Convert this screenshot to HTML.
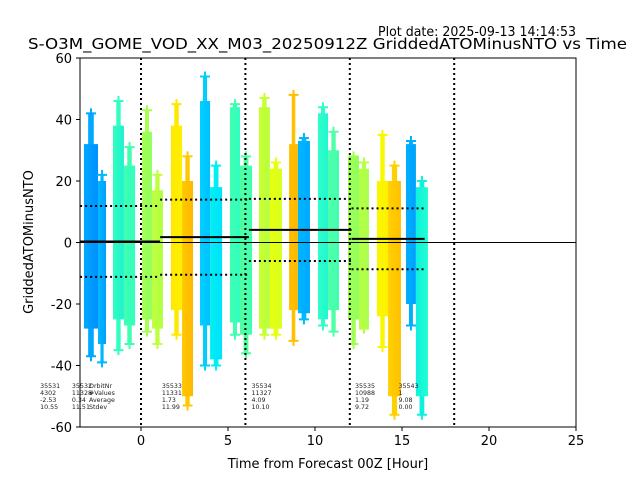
<!DOCTYPE html>
<html><head><meta charset="utf-8"><style>
body{margin:0;background:#fff;font-family:"Liberation Sans","DejaVu Sans",sans-serif}
svg text{font-family:"DejaVu Sans","Liberation Sans",sans-serif}
</style></head><body>
<svg id="chart" width="640" height="480" xmlns="http://www.w3.org/2000/svg">
<rect width="640" height="480" fill="#fff"/>
<text x="378" y="36" font-size="13" textLength="198" lengthAdjust="spacingAndGlyphs">Plot date: 2025-09-13 14:14:53</text>
<text x="28" y="49" font-size="15.5" textLength="599" lengthAdjust="spacingAndGlyphs">S-O3M_GOME_VOD_XX_M03_20250912Z GriddedATOMinusNTO vs Time</text>
<g id="plot"></g>
<rect x="80" y="58" width="496" height="369" fill="none" stroke="#000" stroke-width="1"/>
<g id="axes"></g>
<text x="328" y="468" font-size="13" text-anchor="middle">Time from Forecast 00Z [Hour]</text>
<text transform="translate(33,242) rotate(-90)" font-size="13" text-anchor="middle">GriddedATOMinusNTO</text>
</svg>
<script>
const stripX0=[-3.28,-2.47,-1.61,-0.98,0.06,0.63,1.72,2.36,3.39,3.97,5.11,5.69,6.78,7.41,8.51,9.02,10.17,10.75,11.9,12.53,13.56,14.2,15.23,15.8];
const stripX1=[-2.47,-2.01,-0.98,-0.34,0.63,1.26,2.36,2.99,3.97,4.66,5.69,6.38,7.41,8.10,9.02,9.71,10.75,11.38,12.53,13.1,14.2,14.94,15.8,16.49];
const coreTop=[32,20,38,25,36,17,38,20,46,18,44,25,44,24,32,33,42,30,28,24,20,20,32,18];
const coreBot=[-28,-33,-25,-27,-25,-28,-22,-50,-27,-38,-26,-30,-28,-28,-22,-23,-25,-22,-25,-28,-24,-50,-20,-50];
const outTop=[42,22,46,31,43,22,45,28,54,25,45,28,47,26,48,34,44,36,28,26,35,25,33,20];
const outBot=[-37,-39,-35,-33,-29,-33,-30,-53,-40,-40,-30,-36,-30,-30,-32,-25,-27,-29,-33,-28,-34,-56,-27,-56];
const stripColA=["#00a8ff","#00b8ff","#30ffc0","#40ffb0","#a8ff50","#c0ff40","#ffe800","#ffc800","#00d0ff","#00f0f0","#40ffb0","#50ffa0","#c8ff30","#e8ff10","#ffc000","#00b8ff","#30ffc8","#50ffa8","#a0ff50","#b8ff40","#f8f800","#ffd000","#00b0ff","#10f0e0"];
const stripColB=["#0090ff","#00a0ff","#20f0d0","#30ffc0","#90ff60","#b0ff40","#fff000","#ffb800","#00c0ff","#00e0ff","#30ffc0","#40ffb0","#b8ff40","#d8ff20","#ffb800","#00a8ff","#20f8d0","#40ffb0","#90ff60","#a8ff50","#fff000","#ffc000","#00a0ff","#20ffd0"];
const meanX0=[-3.5,1.1,6.2,12.1];
const meanX1=[1.1,6.2,12.1,16.3];
const meanVal=[0.34,1.73,4.09,1.19];
const sdVal=[11.51,12.2,10.1,9.9];
const vLines=[0,6,12,18];
const xTicks=[0,5,10,15,20,25];
const yTicks=[-60,-40,-20,0,20,40,60];
const annX=[-5.8,-3.97,1.2,6.35,12.3,14.8];
const annLines=[["35531","4302","-2.53","10.55"],["35532","11328","0.34","11.51"],["35533","11331","1.73","11.99"],["35534","11327","4.09","10.10"],["35535","10988","1.19","9.72"],["35543","1","9.08","0.00"]];
const labelsCol=["OrbitNr","#Values","Average","Stdev"];

const X=h=>141+(h)*17.4;
const Y=v=>242.5-v*3.075;
const NS="http://www.w3.org/2000/svg";
const plot=document.getElementById('plot'), axes=document.getElementById('axes');
function mk(tag,attrs,parent){const e=document.createElementNS(NS,tag);for(const k in attrs)e.setAttribute(k,attrs[k]);parent.appendChild(e);return e;}
const defs=mk('defs',{},plot);
for(let i=0;i<stripX0.length;i++){
  const g=mk('linearGradient',{id:'g'+i,x1:0,x2:1,y1:0,y2:0},defs);
  mk('stop',{offset:0,'stop-color':stripColA[i]},g);mk('stop',{offset:1,'stop-color':stripColB[i]},g);
  const x0=X(stripX0[i]),x1=X(stripX1[i]),w=x1-x0,cx=(x0+x1)/2;
  const t=mk('rect',{x:cx-w*0.2,y:Y(outTop[i]),width:w*0.4,height:Y(outBot[i])-Y(outTop[i]),fill:stripColA[i]},plot);
  
  
  const r=mk('rect',{x:x0,y:Y(coreTop[i]),width:w,height:Y(coreBot[i])-Y(coreTop[i]),fill:'url(#g'+i+')'},plot);
  
  
  [outTop[i],outBot[i]].forEach(v=>{
    const p=mk('path',{d:`M${cx-5},${Y(v)}h10M${cx},${Y(v)-5}v10`,stroke:stripColA[i],'stroke-width':2},plot);
    
    
  });
}
const z=mk('line',{x1:80,x2:576,y1:Y(0),y2:Y(0),stroke:'#000','stroke-width':1},plot);


vLines.forEach(v=>{const l=mk('line',{x1:X(v),x2:X(v),y1:58,y2:427,stroke:'#000','stroke-width':2,'stroke-dasharray':'2,3'},plot);

});
for(let i=0;i<meanVal.length;i++){
  const a=X(meanX0[i]),b=X(meanX1[i]);
  const m=mk('line',{x1:a,x2:b,y1:Y(meanVal[i]),y2:Y(meanVal[i]),stroke:'#000','stroke-width':2},plot);
  
  
  [1,-1].forEach(s=>{const d=mk('line',{x1:a,x2:b,y1:Y(meanVal[i]+s*sdVal[i]),y2:Y(meanVal[i]+s*sdVal[i]),stroke:'#000','stroke-width':2,'stroke-dasharray':'2,3'},plot);
  
  });
}
xTicks.forEach(v=>{mk('line',{x1:X(v),x2:X(v),y1:427,y2:431,stroke:'#000'},axes);
const t=mk('text',{x:X(v),y:445,'font-size':13,'text-anchor':'middle'},axes);t.textContent=v;

});
yTicks.forEach(v=>{mk('line',{x1:76,x2:80,y1:Y(v),y2:Y(v),stroke:'#000'},axes);
const t=mk('text',{x:72,y:Y(v)+5,'font-size':13,'text-anchor':'end'},axes);t.textContent=v;

});
function ann(x,lines,name){lines.forEach((s,j)=>{const t=mk('text',{x:x,y:388+j*7,'font-size':6.3,fill:'#222'},axes);t.textContent=s;

});}
annX.forEach((h,i)=>ann(X(h),annLines[i],'orbit-stats'));
ann(89,labelsCol,'stats-labels');
</script>
</body></html>
